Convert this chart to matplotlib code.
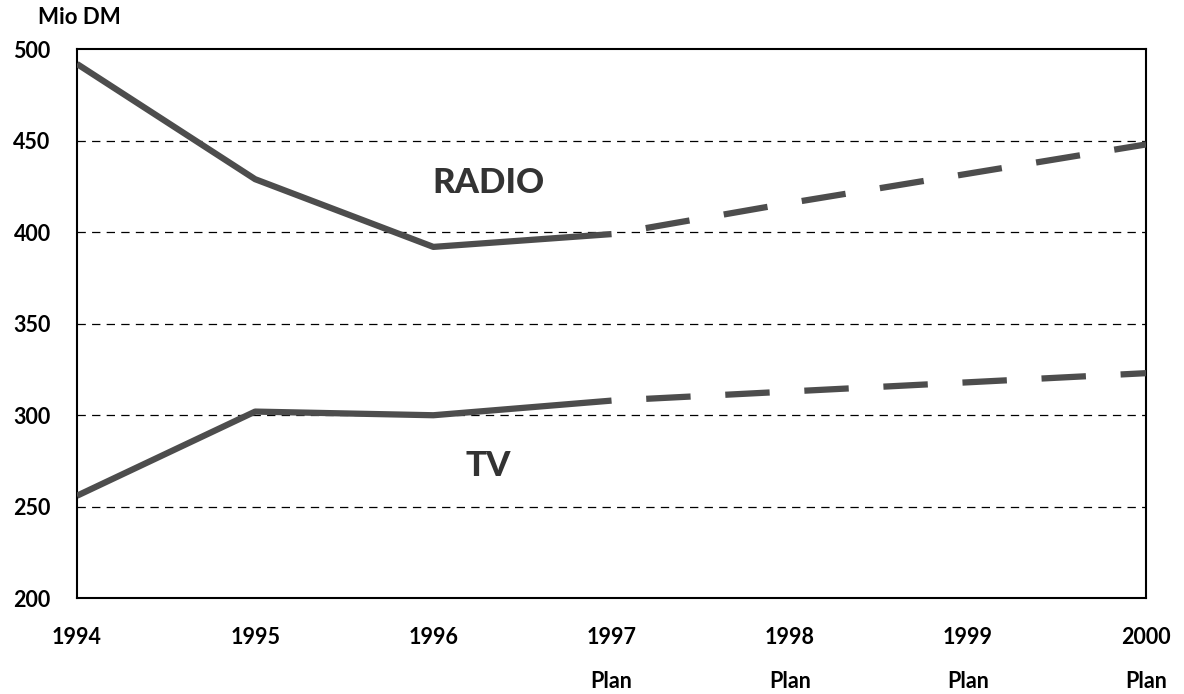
import matplotlib
matplotlib.use("Agg")
import matplotlib.pyplot as plt

plt.rcParams['font.family'] = ['Lato', 'DejaVu Sans']
plt.rcParams['lines.scale_dashes'] = False

years = [1994, 1995, 1996, 1997, 1998, 1999, 2000]
year_labels = ["1994", "1995", "1996", "1997\nPlan", "1998\nPlan", "1999\nPlan", "2000\nPlan"]
radio = [492, 429, 392, 399, 416, 432, 448]
tv = [256, 302, 300, 308, 313, 318, 323]
n_actual = 4  # 1994-1997 actual (solid), 1997-2000 plan (dashed)
yticks = [200, 250, 300, 350, 400, 450, 500]

fig = plt.figure(figsize=(11.84, 6.94), dpi=100)
ax = fig.add_axes([0.065, 0.138, 0.903, 0.791])

line_color = '#4d4d4d'
lw = 4.5
for series in (radio, tv):
    ax.plot(years[:n_actual], series[:n_actual], color=line_color, lw=lw,
            solid_capstyle='butt', solid_joinstyle='round', zorder=3)
    ax.plot(years[n_actual - 1:], series[n_actual - 1:], color=line_color, lw=lw,
            linestyle=(32, (32, 25)), dash_capstyle='butt', zorder=3)

for y in yticks[1:-1]:
    ax.axhline(y, color='black', lw=0.9, linestyle=(0, (6, 4.5)), zorder=1)

ax.set_xlim(1994, 2000)
ax.set_ylim(200, 500)
ax.set_yticks(yticks)
ax.set_yticklabels([str(v) for v in yticks], fontsize=15.5, fontweight='bold')
ax.set_xticks(years)
ax.set_xticklabels(year_labels, fontsize=15.5, fontweight='bold', linespacing=2.35, va='top')
ax.tick_params(length=0)
ax.tick_params(axis='y', pad=19)
ax.tick_params(axis='x', pad=21)
for sp in ax.spines.values():
    sp.set_linewidth(1.5)
    sp.set_color('black')

ax.text(1996.31, 427, "RADIO", fontsize=25, fontweight='black', ha='center', va='center',
        color='#333333')
ax.text(1996.31, 272, "TV", fontsize=25, fontweight='black', ha='center', va='center',
        color='#333333')
fig.text(0.032, 0.975, "Mio DM", fontsize=16, fontweight='bold', ha='left', va='center')

fig.savefig("out.png", dpi=100)
